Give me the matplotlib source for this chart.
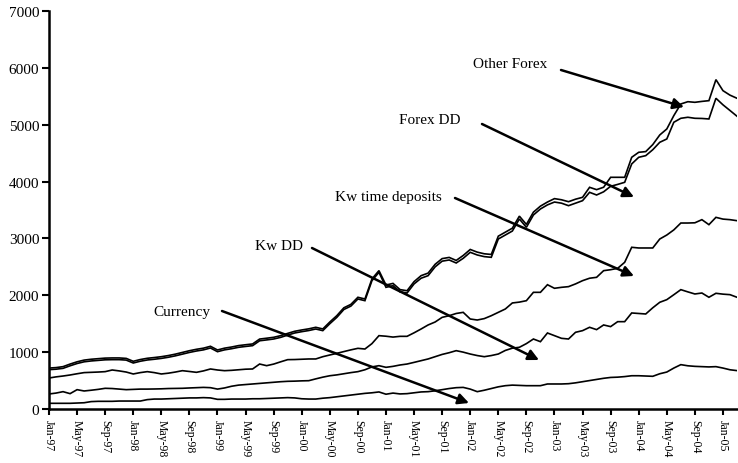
import matplotlib
matplotlib.use("Agg")
import matplotlib.pyplot as plt
import numpy as np

# Monthly data, Jan-97 .. Mar-05 (stacked levels as plotted)
currency = [100, 100, 100, 100, 105, 110, 130, 135, 135, 135, 140, 140, 140, 140,
            165, 175, 175, 180, 185, 190, 195, 195, 200, 195,
            170, 170, 175, 175, 175, 180, 180, 185, 190, 195, 200, 195,
            180, 175, 175, 190, 200, 215, 230, 245, 260, 275, 285, 300,
            260, 280, 265, 270, 285, 300, 305, 320, 340, 360, 375, 380,
            350, 305, 330, 360, 390, 410, 420, 415, 410, 410, 410, 440,
            440, 440, 445, 460, 480, 500, 520, 540, 555, 560, 570, 585,
            585, 580, 575, 620, 650, 720, 780, 760, 750, 745, 740, 745,
            720, 690, 675]

kw_dd = [264, 280, 305, 270, 340, 317, 330, 345, 364, 360, 350, 340,
         345, 350, 350, 352, 355, 360, 362, 364, 370, 375, 380, 375,
         350, 370, 400, 420, 430, 440, 450, 460, 470, 480, 487, 490,
         495, 498, 530, 560, 585, 600, 620, 640, 657, 690, 740, 762,
         733, 750, 774, 791, 820, 850, 880, 920, 960, 990, 1026, 1000,
         967, 940, 920, 940, 967, 1030, 1070, 1085, 1150, 1231, 1184, 1337,
         1290, 1243, 1231, 1349, 1378, 1437, 1396, 1478, 1449, 1536, 1536, 1689,
         1680, 1671, 1780, 1877, 1923, 2010, 2099, 2060, 2023, 2040, 1965, 2035,
         2020, 2011, 1965]

kw_time = [545, 565, 580, 598, 620, 640, 645, 650, 657, 686, 670, 650,
           616, 640, 657, 640, 616, 630, 650, 674, 660, 645, 670, 704,
           686, 674, 680, 690, 700, 704, 791, 762, 790, 830, 868, 870,
           875, 880, 880, 920, 950, 979, 1010, 1040, 1067, 1055, 1150, 1290,
           1280, 1265, 1278, 1278, 1340, 1407, 1478, 1530, 1612, 1641, 1680, 1700,
           1583, 1565, 1590, 1641, 1700, 1759, 1865, 1880, 1905, 2052, 2052, 2186,
           2123, 2140, 2152, 2200, 2257, 2300, 2316, 2433, 2450, 2474, 2580, 2844,
           2832, 2832, 2832, 2990, 3060, 3150, 3271, 3271, 3275, 3330, 3242, 3371,
           3340, 3330, 3312]

forex_dd = [692, 700, 715, 760, 800, 830, 845, 855, 865, 868, 868, 860,
            809, 840, 862, 875, 890, 910, 935, 965, 995, 1020, 1040, 1073,
            1008, 1040, 1060, 1085, 1100, 1114, 1200, 1215, 1231, 1260, 1300, 1337,
            1360, 1380, 1407, 1378, 1500, 1612, 1750, 1810, 1935, 1905, 2257, 2404,
            2140, 2169, 2060, 2040, 2200, 2300, 2345, 2500, 2600, 2621, 2568, 2650,
            2756, 2709, 2680, 2668, 2990, 3060, 3130, 3342, 3196, 3412, 3518, 3590,
            3640, 3620, 3576, 3620, 3664, 3811, 3764, 3820, 3917, 3950, 3987, 4310,
            4427, 4456, 4560, 4691, 4749, 5043, 5113, 5131, 5113, 5110, 5101, 5465,
            5350, 5250, 5149]

other_forex = [720, 728, 745, 790, 830, 860, 875, 885, 895, 898, 898, 890,
               839, 870, 892, 905, 920, 940, 965, 995, 1025, 1050, 1070, 1103,
               1038, 1070, 1090, 1115, 1130, 1144, 1230, 1245, 1261, 1290, 1330, 1367,
               1390, 1410, 1437, 1408, 1530, 1642, 1780, 1840, 1965, 1935, 2287, 2434,
               2180, 2209, 2100, 2080, 2240, 2345, 2390, 2545, 2645, 2666, 2613, 2700,
               2806, 2759, 2730, 2718, 3040, 3110, 3180, 3392, 3246, 3462, 3568, 3640,
               3700, 3680, 3646, 3690, 3723, 3899, 3858, 3900, 4075, 4075, 4075, 4427,
               4515, 4527, 4650, 4820, 4925, 5160, 5365, 5405, 5394, 5410, 5423, 5793,
               5599, 5520, 5465]

tick_labels = ["Jan-97", "May-97", "Sep-97", "Jan-98", "May-98", "Sep-98", "Jan-99",
               "May-99", "Sep-99", "Jan-00", "May-00", "Sep-00", "Jan-01", "May-01",
               "Sep-01", "Jan-02", "May-02", "Sep-02", "Jan-03", "May-03", "Sep-03",
               "Jan-04", "May-04", "Sep-04", "Jan-05"]

series_labels = ["Currency", "Kw DD", "Kw time deposits", "Forex DD", "Other Forex"]

plt.rcParams['font.family'] = ['Liberation Serif', 'DejaVu Serif']

W, H = 738, 464
fig = plt.figure(figsize=(W / 100, H / 100), dpi=100)
ax = fig.add_axes([49 / W, 1 - 410 / H, (737 - 49) / W, (410 - 12) / H])

months = np.arange(len(currency))
for s in [currency, kw_dd, kw_time, forex_dd, other_forex]:
    ax.plot(months, s, color='black', lw=1.2, solid_joinstyle='miter')

ax.set_xlim(0, len(currency) - 1)
ax.set_ylim(0, 7000)
ax.set_yticks(np.arange(0, 7001, 1000))
ax.set_xticks(np.arange(0, 4 * len(tick_labels), 4))
ax.set_xticklabels(tick_labels, rotation=270, fontsize=8.5)
ax.tick_params(axis='y', labelsize=11, length=5, width=1.5, direction='out', pad=2)
ax.tick_params(axis='x', length=4, width=1.5, direction='out', pad=3)
for lab in ax.get_xticklabels():
    lab.set_va('top')
    lab.set_ha('center')
for sp in ['top', 'right']:
    ax.spines[sp].set_visible(False)
for sp in ['left', 'bottom']:
    ax.spines[sp].set_linewidth(1.8)

# annotations in figure pixel coordinates (from top-left of the image)
ann = [
    ("Other Forex", (510, 65), (561, 71), (684, 108)),
    ("Forex DD", (430, 121), (482, 125), (634, 198)),
    ("Kw time deposits", (388, 198), (455, 199), (634, 277)),
    ("Kw DD", (279, 247), (312, 249), (539, 361)),
    ("Currency", (182, 313), (222, 312), (469, 404)),
]
for text, tpos, start, end in ann:
    fig.text(tpos[0] / W, 1 - tpos[1] / H, text, ha='center', va='center', fontsize=11)
    ax.annotate("", xy=(end[0], H - end[1]), xycoords='figure pixels',
                xytext=(start[0], H - start[1]), textcoords='figure pixels',
                arrowprops=dict(arrowstyle='-|>', lw=1.8, color='black',
                                mutation_scale=16, shrinkA=0, shrinkB=0))

fig.savefig("out.png", dpi=100)
